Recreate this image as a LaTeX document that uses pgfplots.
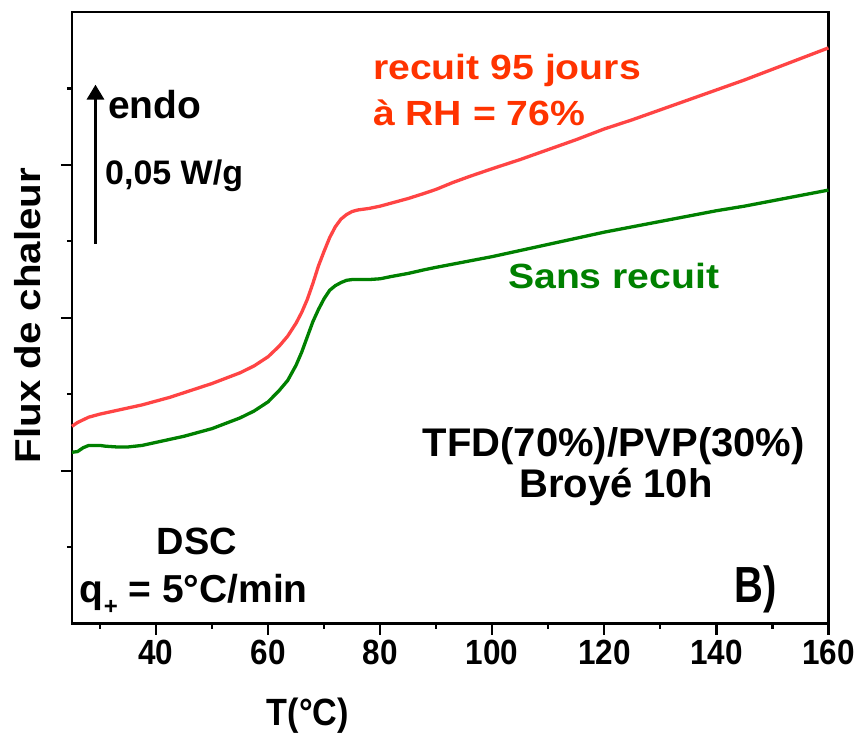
\documentclass[border=0pt]{standalone}
\usepackage{pgfplots}
\pgfplotsset{compat=1.18}
\usepackage{pgfplotstable}
\usepackage{graphicx}
\usetikzlibrary{arrows.meta}
\usepackage{fontspec}
\setmainfont{Liberation Sans}
\newfontfamily\annfont[FakeStretch=1.12]{Liberation Sans}
\newfontfamily\tickfont[FakeStretch=0.9]{Liberation Sans}
\definecolor{redc}{HTML}{FF4444}
\definecolor{redt}{HTML}{FF3300}
\definecolor{greenc}{HTML}{008000}

\pgfplotstableread{
T y
25.0 2.58
26.0 2.63
28.0 2.70
30.0 2.74
32.5 2.78
35.0 2.82
37.5 2.86
40.0 2.91
42.5 2.96
45.0 3.02
47.5 3.08
50.0 3.14
52.5 3.21
55.0 3.28
57.5 3.37
60.0 3.49
62.0 3.63
63.5 3.76
65.0 3.93
66.0 4.07
67.0 4.24
68.0 4.45
69.0 4.68
70.0 4.87
71.0 5.05
72.0 5.19
73.0 5.29
74.0 5.35
75.0 5.39
76.0 5.41
78.0 5.43
80.0 5.46
82.0 5.50
85.0 5.56
88.0 5.63
90.0 5.68
93.0 5.77
96.0 5.85
100.0 5.95
105.0 6.07
110.0 6.20
115.0 6.33
120.0 6.47
125.0 6.59
130.0 6.72
135.0 6.85
140.0 6.98
145.0 7.11
150.0 7.25
155.0 7.39
160.0 7.53
}\recuit

\pgfplotstableread{
T y
25.0 2.24
26.0 2.25
27.0 2.30
28.0 2.33
30.0 2.33
31.0 2.32
33.0 2.31
35.0 2.31
37.5 2.33
40.0 2.37
42.5 2.41
45.0 2.45
47.5 2.50
50.0 2.55
52.5 2.62
55.0 2.69
57.5 2.78
60.0 2.90
62.0 3.05
63.5 3.18
65.0 3.38
66.0 3.55
67.0 3.75
68.0 3.95
69.0 4.11
70.0 4.25
71.0 4.36
72.0 4.42
73.0 4.46
74.0 4.49
75.0 4.50
78.0 4.50
80.0 4.51
82.0 4.54
85.0 4.58
88.0 4.63
90.0 4.66
95.0 4.73
100.0 4.80
105.0 4.88
110.0 4.96
115.0 5.04
120.0 5.12
125.0 5.19
130.0 5.26
135.0 5.33
140.0 5.40
145.0 5.46
150.0 5.53
155.0 5.60
160.0 5.67
}\sansrecuit

\begin{document}
\begin{tikzpicture}
\begin{axis}[
  name=ax,
  scale only axis,
  width=757pt, height=612pt,
  xmin=25, xmax=160, ymin=0, ymax=8,
  axis line style={line width=2.7pt},
  xtick={40,60,...,160},
  minor xtick={30,50,...,150},
  ytick={2,4,6},
  minor ytick={1,3,5,7},
  yticklabels={},
  xtick pos=left, ytick pos=left,
  tick align=outside,
  major tick length=11pt,
  minor tick length=5pt,
  every tick/.style={line width=2.3pt, black},
  /pgf/number format/assume math mode=true,
  xticklabel style={font=\tickfont\fontsize{35}{40}\selectfont\bfseries, yshift=-2pt},
  clip=false,
]
\addplot[redc, line width=3.3pt] table[x=T,y=y] {\recuit};
\addplot[greenc, line width=3.3pt] table[x=T,y=y] {\sansrecuit};

\node[anchor=base west, inner sep=0, text=redt, font=\annfont\fontsize{35}{40}\selectfont\bfseries] at (axis cs:78.7,7.12) {recuit 95 jours};
\node[anchor=base west, inner sep=0, text=redt, font=\annfont\fontsize{35}{40}\selectfont\bfseries] at (axis cs:78.7,6.52) {à RH = 76\%};
\node[anchor=base west, inner sep=0, text=greenc, font=\annfont\fontsize{35}{40}\selectfont\bfseries] at (axis cs:102.8,4.38) {Sans recuit};

\draw[line width=3.2pt, -{Triangle[length=15pt,width=17pt]}] (axis cs:29.2,4.97) -- (axis cs:29.2,7.05);
\node[anchor=base west, inner sep=0, font=\fontsize{39}{44}\selectfont\bfseries] at (axis cs:31.4,6.61) {endo};
\node[anchor=base west, inner sep=0, font=\fontsize{34}{38}\selectfont\bfseries] at (axis cs:30.9,5.74) {0,05 W/g};

\node[anchor=base, inner sep=0, font=\fontsize{40}{44}\selectfont\bfseries] at (axis cs:121.7,2.18) {TFD(70\%)/PVP(30\%)};
\node[anchor=base, inner sep=0, font=\fontsize{40}{44}\selectfont\bfseries] at (axis cs:122.1,1.65) {Broyé 10h};

\node[anchor=base, inner sep=0, font=\fontsize{38}{44}\selectfont\bfseries] at (axis cs:47.3,0.90) {DSC};
\node[anchor=base west, inner sep=0, font=\fontsize{39}{44}\selectfont\bfseries] at (axis cs:26.4,0.27) {q\raisebox{-0.3em}{\fontsize{24}{26}\selectfont +} = 5°C/min};
\node[anchor=base west, inner sep=0, font=\fontsize{40}{46}\selectfont\bfseries] at (axis cs:143.2,0.27) {\scalebox{1}[1.27]{B)}};

\node[anchor=center, inner sep=0, font=\tickfont\fontsize{38}{42}\selectfont\bfseries] at (axis cs:67.1,-1.2) {T(°C)};
\node[anchor=center, inner sep=0, rotate=90, font=\annfont\fontsize{36}{40}\selectfont\bfseries] at (axis cs:17.15,4.03) {Flux de chaleur};
\end{axis}
\path ([shift={(-72pt,-112pt)}]ax.south west) rectangle ([shift={(29pt,12pt)}]ax.north east);
\end{tikzpicture}
\end{document}
